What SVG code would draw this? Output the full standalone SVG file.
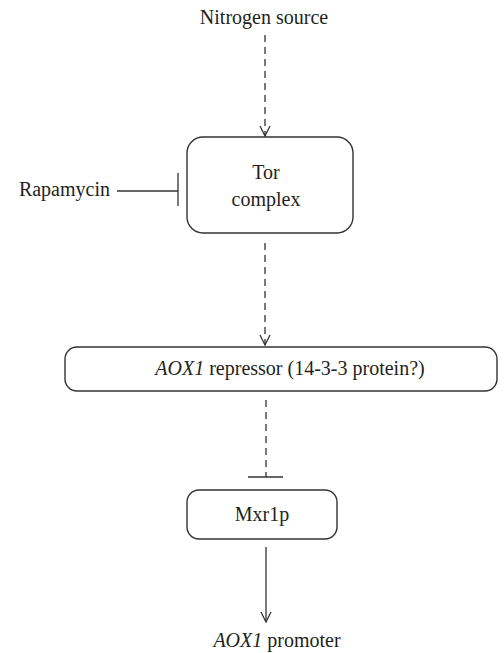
<svg xmlns="http://www.w3.org/2000/svg" width="504" height="653" viewBox="0 0 504 653">
<defs>
<style>
.t{font-family:"Liberation Serif","Times New Roman",serif;font-size:20px;fill:#231f20}
.box{fill:#fff;stroke:#333;stroke-width:1.4}
.ln{fill:none;stroke:#333;stroke-width:1.3}
.dash{stroke-dasharray:7 5}
</style>
<marker id="arr" viewBox="0 0 12 12" refX="11" refY="6" markerWidth="12" markerHeight="12" markerUnits="userSpaceOnUse" orient="auto">
<path d="M1,1 L11,6 L1,11" fill="none" stroke="#333" stroke-width="1.3"/>
</marker>
</defs>
<rect width="504" height="653" fill="#fff"/>
<g id="nitrogen"><text class="t" x="264" y="24" text-anchor="middle">Nitrogen source</text></g>
<g id="rapamycin"><text class="t" x="110" y="196" text-anchor="end">Rapamycin</text></g>
<g id="tor">
<rect class="box" x="187" y="137" width="166" height="96" rx="16"/>
<text class="t" x="266" y="179" text-anchor="middle">Tor</text>
<text class="t" x="266" y="206" text-anchor="middle">complex</text>
</g>
<g id="repressor">
<rect class="box" x="65" y="347" width="432" height="44" rx="12"/>
<text class="t" x="290" y="375" text-anchor="middle"><tspan font-style="italic">AOX1</tspan> repressor (14-3-3 protein?)</text>
</g>
<g id="mxr1p">
<rect class="box" x="187" y="490" width="150" height="49" rx="12"/>
<text class="t" x="262" y="521" text-anchor="middle">Mxr1p</text>
</g>
<g id="promoter"><text class="t" x="277" y="647" text-anchor="middle"><tspan font-style="italic">AOX1</tspan> promoter</text></g>
<g id="connectors">
<line class="ln dash" x1="265" y1="35" x2="265" y2="136" marker-end="url(#arr)"/>
<line class="ln" x1="117" y1="191" x2="178" y2="191"/>
<line class="ln" x1="178" y1="173" x2="178" y2="206"/>
<line class="ln dash" x1="265" y1="243" x2="265" y2="345" marker-end="url(#arr)"/>
<line class="ln dash" x1="266" y1="400" x2="266" y2="477"/>
<line class="ln" x1="248" y1="477" x2="283" y2="477"/>
<line class="ln" x1="266" y1="547" x2="266" y2="622" marker-end="url(#arr)"/>
</g>
</svg>
